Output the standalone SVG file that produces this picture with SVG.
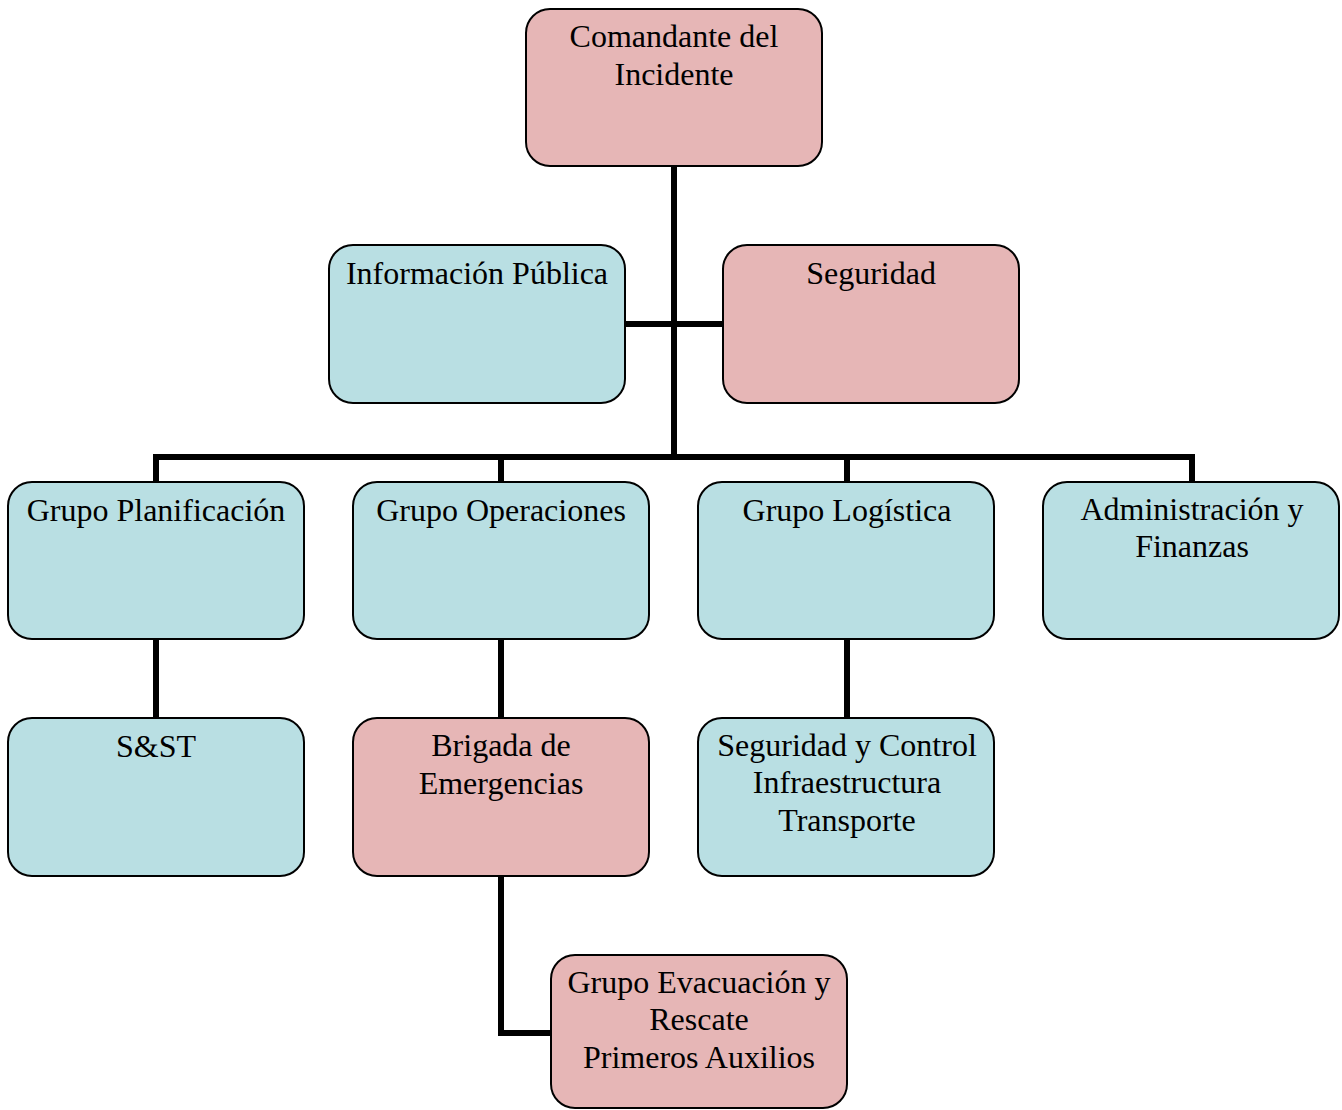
<svg xmlns="http://www.w3.org/2000/svg" width="1342" height="1110" viewBox="0 0 1342 1110">
<style>
.box{stroke:#000;stroke-width:2}
.pink{fill:#E6B6B6}
.blue{fill:#B9DFE3}
text{font-family:"Liberation Serif","Times New Roman",serif;font-size:32px;fill:#000;text-anchor:middle}
.conn{fill:none;stroke:#000;stroke-width:6;stroke-linejoin:miter;stroke-linecap:butt}
</style>
<rect width="1342" height="1110" fill="#fff"/>
<g id="connectors">
<path class="conn" d="M674 166 V457"/>
<path class="conn" d="M625 324 H723"/>
<path class="conn" d="M156 482 V457 H1192 V482"/>
<path class="conn" d="M501 457 V482"/>
<path class="conn" d="M847 457 V482"/>
<path class="conn" d="M156 639 V718"/>
<path class="conn" d="M501 639 V718"/>
<path class="conn" d="M847 639 V718"/>
<path class="conn" d="M501 876 V1033 H551"/>
</g>
<g id="comandante"><rect class="box pink" x="526" y="9" width="296" height="157" rx="24"/><text x="674" y="47">Comandante del</text><text x="674" y="85">Incidente</text></g>
<g id="informacion"><rect class="box blue" x="329" y="245" width="296" height="158" rx="24"/><text x="477" y="284">Información Pública</text></g>
<g id="seguridad"><rect class="box pink" x="723" y="245" width="296" height="158" rx="24"/><text x="871" y="284">Seguridad</text></g>
<g id="planificacion"><rect class="box blue" x="8" y="482" width="296" height="157" rx="24"/><text x="156" y="521">Grupo Planificación</text></g>
<g id="operaciones"><rect class="box blue" x="353" y="482" width="296" height="157" rx="24"/><text x="501" y="521">Grupo Operaciones</text></g>
<g id="logistica"><rect class="box blue" x="698" y="482" width="296" height="157" rx="24"/><text x="847" y="521">Grupo Logística</text></g>
<g id="administracion"><rect class="box blue" x="1043" y="482" width="296" height="157" rx="24"/><text x="1192" y="520">Administración y</text><text x="1192" y="557">Finanzas</text></g>
<g id="sst"><rect class="box blue" x="8" y="718" width="296" height="158" rx="24"/><text x="156" y="757">S&amp;ST</text></g>
<g id="brigada"><rect class="box pink" x="353" y="718" width="296" height="158" rx="24"/><text x="501" y="756">Brigada de</text><text x="501" y="794">Emergencias</text></g>
<g id="seguridad-control"><rect class="box blue" x="698" y="718" width="296" height="158" rx="24"/><text x="847" y="756">Seguridad y Control</text><text x="847" y="793">Infraestructura</text><text x="847" y="831">Transporte</text></g>
<g id="evacuacion"><rect class="box pink" x="551" y="955" width="296" height="153" rx="24"/><text x="699" y="993">Grupo Evacuación y</text><text x="699" y="1030">Rescate</text><text x="699" y="1068">Primeros Auxilios</text></g>
</svg>
